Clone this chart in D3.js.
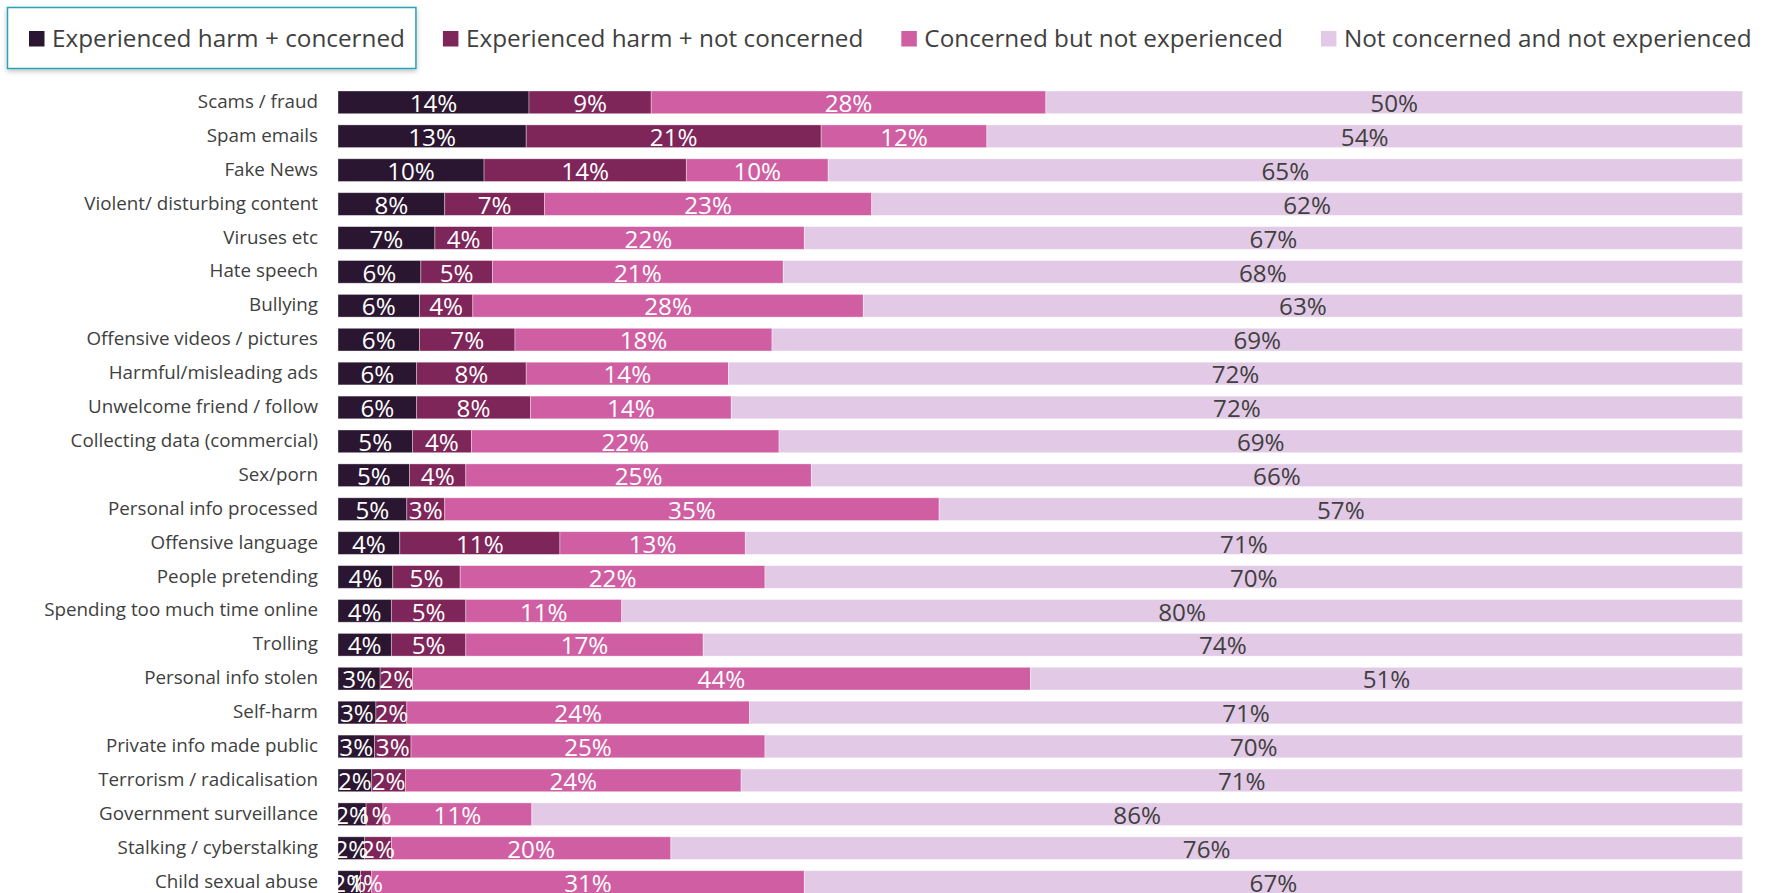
<!DOCTYPE html>
<html>
<head>
<meta charset="utf-8">
<script src="https://cdn.jsdelivr.net/npm/d3@7"></script>
<style>
  html, body { margin: 0; padding: 0; background: #ffffff; }
  svg { display: block; }
  text { font-family: "Open Sans", "Noto Sans", sans-serif; }
</style>
</head>
<body>
<svg id="chart" width="1768" height="893"></svg>
<script>
const categories = [
  "Scams / fraud", "Spam emails", "Fake News", "Violent/ disturbing content",
  "Viruses etc", "Hate speech", "Bullying", "Offensive videos / pictures",
  "Harmful/misleading ads", "Unwelcome friend / follow", "Collecting data (commercial)",
  "Sex/porn", "Personal info processed", "Offensive language", "People pretending",
  "Spending too much time online", "Trolling", "Personal info stolen", "Self-harm",
  "Private info made public", "Terrorism / radicalisation", "Government surveillance",
  "Stalking / cyberstalking", "Child sexual abuse"
];
const seriesNames = [
  "Experienced harm + concerned",
  "Experienced harm + not concerned",
  "Concerned but not experienced",
  "Not concerned and not experienced"
];
const harmConcerned    = [13.6, 13.4, 10.4, 7.6, 6.9, 5.9, 5.8, 5.8, 5.6, 5.6, 5.3, 5.1, 4.9, 4.4, 3.9, 3.8, 3.8, 3.0, 2.7, 2.6, 2.4, 2.0, 1.9, 1.6];
const harmNotConcerned = [8.7, 21.0, 14.4, 7.1, 4.1, 5.1, 3.8, 6.8, 7.8, 8.1, 4.2, 4.0, 2.7, 11.4, 4.8, 5.3, 5.3, 2.3, 2.2, 2.6, 2.4, 1.2, 1.9, 0.8];
const concernedNotExp  = [28.1, 11.8, 10.1, 23.3, 22.2, 20.7, 27.8, 18.3, 14.4, 14.3, 21.9, 24.6, 35.2, 13.2, 21.7, 11.1, 16.9, 44.0, 24.4, 25.2, 23.9, 10.6, 19.9, 30.8];
const notConcerned     = [49.6, 53.8, 65.1, 62.0, 66.8, 68.3, 62.6, 69.1, 72.2, 72.0, 68.6, 66.3, 57.2, 71.0, 69.6, 79.8, 74.0, 50.7, 70.7, 69.6, 71.3, 86.2, 76.3, 66.8];

const seriesColors = ["#2a1630", "#7e2559", "#cf5fa2", "#e2cae6"];
const labelColors  = ["#ffffff", "#ffffff", "#ffffff", "#404040"];

const seriesValues = [harmConcerned, harmNotConcerned, concernedNotExp, notConcerned];
const rows = categories.map((c, i) => {
  const o = { category: c };
  seriesNames.forEach((s, k) => { o[s] = seriesValues[k][i]; });
  return o;
});
const stacked = d3.stack().keys(seriesNames)(rows);

const svg = d3.select("#chart");
const plotLeft = 338, plotRight = 1742.5;

const x = d3.scaleLinear().domain([0, 100]).range([plotLeft, plotRight]);
const y = d3.scaleBand().domain(categories).range([85.4, 85.4 + 24 * 33.9])
  .paddingInner(0.33).paddingOuter(0.165);

svg.append("defs").append("clipPath").attr("id", "plotclip")
  .append("rect").attr("x", plotLeft).attr("y", 0)
  .attr("width", plotRight - plotLeft).attr("height", 893);

// Bars
const layers = svg.append("g").selectAll("g.layer").data(stacked).join("g")
  .attr("class", "layer")
  .attr("fill", (d, k) => seriesColors[k]);
layers.selectAll("rect").data(d => d).join("rect")
  .attr("x", d => x(d[0]))
  .attr("y", d => y(d.data.category))
  .attr("width", d => x(d[1]) - x(d[0]))
  .attr("height", y.bandwidth())
  .attr("stroke", "#ffffff").attr("stroke-opacity", 0.45).attr("stroke-width", 0.8);

// Value labels
const labelG = svg.append("g").attr("clip-path", "url(#plotclip)");
stacked.forEach((layer, k) => {
  labelG.append("g").selectAll("text").data(layer).join("text")
    .attr("x", d => (x(d[0]) + x(d[1])) / 2)
    .attr("y", d => y(d.data.category) + y.bandwidth() / 2)
    .attr("dy", "0.4em")
    .attr("text-anchor", "middle")
    .attr("font-size", 24.2)
    .attr("fill", labelColors[k])
    .text(d => Math.round(d[1] - d[0]) + "%");
});

// Category axis
const yAxis = d3.axisLeft(y).tickSize(0).tickPadding(0);
const ag = svg.append("g").attr("transform", `translate(${plotLeft - 20},0)`).call(yAxis);
ag.select(".domain").remove();
ag.selectAll("text")
  .attr("font-size", 18.8)
  .attr("fill", "#404040")
  .attr("font-family", "'Open Sans', 'Noto Sans', sans-serif")
  .attr("dy", "0.3em");

// Legend
const defs = svg.select("defs");
const f = defs.append("filter").attr("id", "shadow").attr("x", "-10%").attr("y", "-30%").attr("width", "120%").attr("height", "170%");
f.append("feDropShadow").attr("dx", 0).attr("dy", 2).attr("stdDeviation", 2.5)
  .attr("flood-color", "#000000").attr("flood-opacity", 0.25);

const legendG = svg.append("g");
const boxRect = legendG.append("rect")
  .attr("fill", "#ffffff").attr("stroke", "#2aa3b3").attr("stroke-width", 1.5)
  .attr("filter", "url(#shadow)");

let cx = 29;
const itemBounds = [];
seriesNames.forEach((name, k) => {
  const g = legendG.append("g");
  g.append("rect").attr("x", cx).attr("y", 31).attr("width", 15.5).attr("height", 15.5)
    .attr("fill", seriesColors[k]);
  const t = g.append("text").attr("x", cx + 23).attr("y", 46.5)
    .attr("font-size", 24.3).attr("fill", "#404040").text(name);
  const w = t.node().getComputedTextLength();
  itemBounds.push([cx, cx + 23 + w]);
  cx = cx + 23 + w + 38;
});
boxRect.attr("x", 7.5).attr("y", 7.5)
  .attr("width", itemBounds[0][1] + 11 - 7.5).attr("height", 61);
</script>
</body>
</html>
